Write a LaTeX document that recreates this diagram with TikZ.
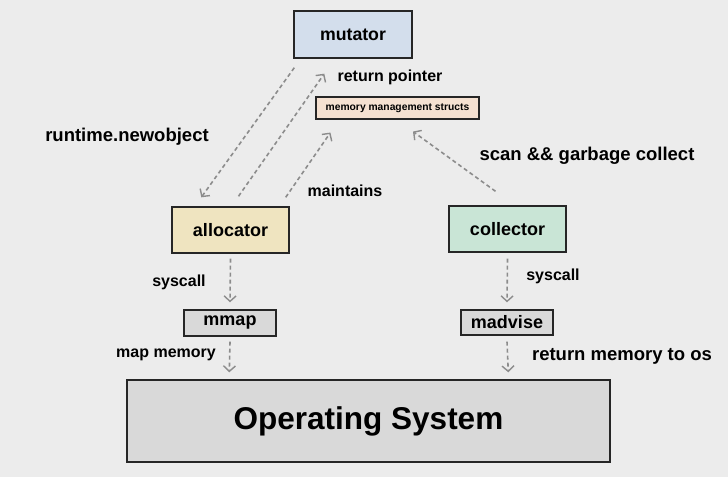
\documentclass[tikz,border=0pt]{standalone}
\usepackage{fontspec}
\setmainfont{Liberation Sans}
\usetikzlibrary{arrows.meta,calc}
\definecolor{bgc}{HTML}{ECECEC}
\definecolor{mutc}{HTML}{D3DEEC}
\definecolor{structc}{HTML}{F5E1D1}
\definecolor{allocc}{HTML}{EFE4C0}
\definecolor{collc}{HTML}{C9E5D6}
\definecolor{greyc}{HTML}{D9D9D9}
\definecolor{arrc}{HTML}{8C8C8C}
\tikzset{
  box/.style={draw=black!85, line width=1.4pt, inner sep=0pt, font=\bfseries},
  conn/.style={draw=arrc, line width=1.6pt, dash pattern=on 4pt off 3pt,
    -{Straight Barb[length=5.5pt,width=12pt,line width=1.4pt]}},
  lbl/.style={font=\bfseries\fontsize{16}{18}\selectfont, inner sep=0pt},
  biglbl/.style={font=\bfseries\fontsize{18.5}{20}\selectfont, inner sep=0pt},
}
\begin{document}
\begin{tikzpicture}[x=1pt,y=-1pt]
\fill[bgc] (0,0) rectangle (728,477);
\useasboundingbox (0,0) rectangle (728,477);

\node[box, fill=mutc, minimum width=118pt, minimum height=47pt, font=\bfseries\fontsize{17.7}{19}\selectfont] (mutator) at (353,34.5) {mutator};
\node[box, fill=structc, line width=1.1pt, minimum width=163pt, minimum height=22pt, font=\bfseries\fontsize{10.3}{11}\selectfont] (structs) at (397.5,108) {memory management structs};
\node[box, fill=allocc, minimum width=117pt, minimum height=46pt, font=\bfseries\fontsize{18}{19}\selectfont] (allocator) at (230.5,230) {allocator};
\node[box, fill=collc, minimum width=117pt, minimum height=46pt, font=\bfseries\fontsize{18}{19}\selectfont] (collector) at (507.5,229) {collector};
\node[box, fill=greyc, minimum width=92pt, minimum height=26pt, font=\bfseries\fontsize{18}{19}\selectfont] (mmap) at (230,323) {mmap};
\node[box, fill=greyc, minimum width=92pt, minimum height=25pt, font=\bfseries\fontsize{18}{19}\selectfont] (madvise) at (507,322.5) {madvise};
\node[box, fill=greyc, minimum width=483pt, minimum height=82pt, font=\bfseries\fontsize{31.5}{34}\selectfont] (os) at (368.5,421) {Operating System};

% connectors
\draw[conn] ($(mutator.south west)+(1,9)$) -- ($(allocator.north west)+(30,-9)$);
\draw[conn] ($(allocator.north)+(8,-10)$) -- ($(mutator.south west)+(31,15)$);
\draw[conn] ($(allocator.north east)+(-4,-9)$) -- ($(structs.south west)+(15,13)$);
\draw[conn] ($(collector.north)+(-12,-14)$) -- ($(structs.south)+(15.5,12)$);
\draw[conn] ($(allocator.south)+(0,5)$) -- ($(mmap.north)+(0,-7)$);
\draw[conn] ($(mmap.south)+(0,5)$) -- ($(os.north west)+(103,-7)$);
\draw[conn] ($(collector.south)+(0,6)$) -- ($(madvise.north)+(0,-7)$);
\draw[conn] ($(madvise.south)+(0,6)$) -- ($(os.north west)+(382,-7)$);

% labels
\node[biglbl] (l1) at (127,137) {runtime.newobject};
\node[lbl] (l2) at (390,77) {return pointer};
\node[lbl] (l3) at (345,191) {maintains};
\node[biglbl] (l4) at (587,156) {scan \&\& garbage collect};
\node[lbl] (l5) at (179,282) {syscall};
\node[lbl] (l6) at (553,276) {syscall};
\node[lbl] (l7) at (166,355) {map memory};
\node[biglbl] (l8) at (622,356) {return memory to os};
\end{tikzpicture}
\end{document}
